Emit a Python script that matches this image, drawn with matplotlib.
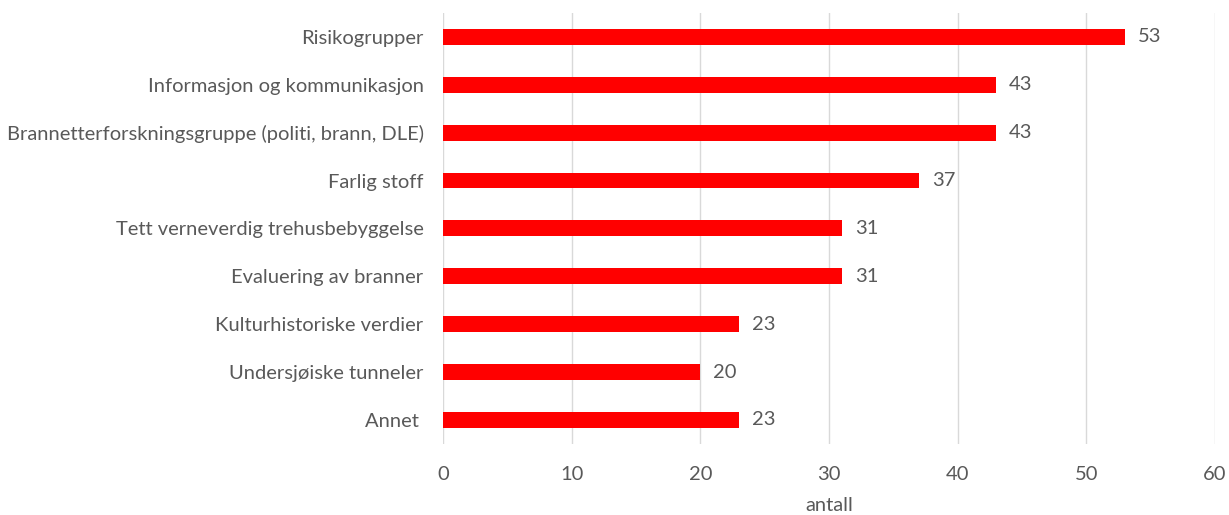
import matplotlib.pyplot as plt

# Kategorier og verdier (øverst til nederst)
kategorier = [
    "Risikogrupper",
    "Informasjon og kommunikasjon",
    "Brannetterforskningsgruppe (politi, brann, DLE)",
    "Farlig stoff",
    "Tett verneverdig trehusbebyggelse",
    "Evaluering av branner",
    "Kulturhistoriske verdier",
    "Undersjøiske tunneler",
    "Annet ",
]
antall = [53, 43, 43, 37, 31, 31, 23, 20, 23]
x_ticks = [0, 10, 20, 30, 40, 50, 60]

tekstfarge = "#595959"
fs = 14.5
plt.rcParams["font.family"] = ["Lato", "DejaVu Sans"]

fig = plt.figure(figsize=(12.29, 5.15), dpi=100)
ax = fig.add_axes([0.3605, 0.138, 0.628, 0.837])

y = list(range(len(kategorier)))
ax.barh(y, antall, height=0.33, color="#FF0000", zorder=3)

for yi, v in zip(y, antall):
    ax.text(v + 1.0, yi, str(v), va="center", ha="left", fontsize=fs, color=tekstfarge)

ax.set_yticks(y)
ax.set_yticklabels(kategorier, fontsize=fs, color=tekstfarge)
ax.set_ylim(len(kategorier) - 0.5, -0.5)
ax.set_xlim(0, 60)
ax.set_xticks(x_ticks)
ax.set_xticklabels([str(t) for t in x_ticks], fontsize=fs, color=tekstfarge)
ax.tick_params(axis="both", length=0)
ax.tick_params(axis="y", pad=14)
ax.tick_params(axis="x", pad=16)

ax.grid(axis="x", color="#D9D9D9", linewidth=1, zorder=0)
for s in ax.spines.values():
    s.set_visible(False)

ax.set_xlabel("antall", fontsize=fs, color=tekstfarge, labelpad=10)

fig.savefig("out.png", dpi=100)
